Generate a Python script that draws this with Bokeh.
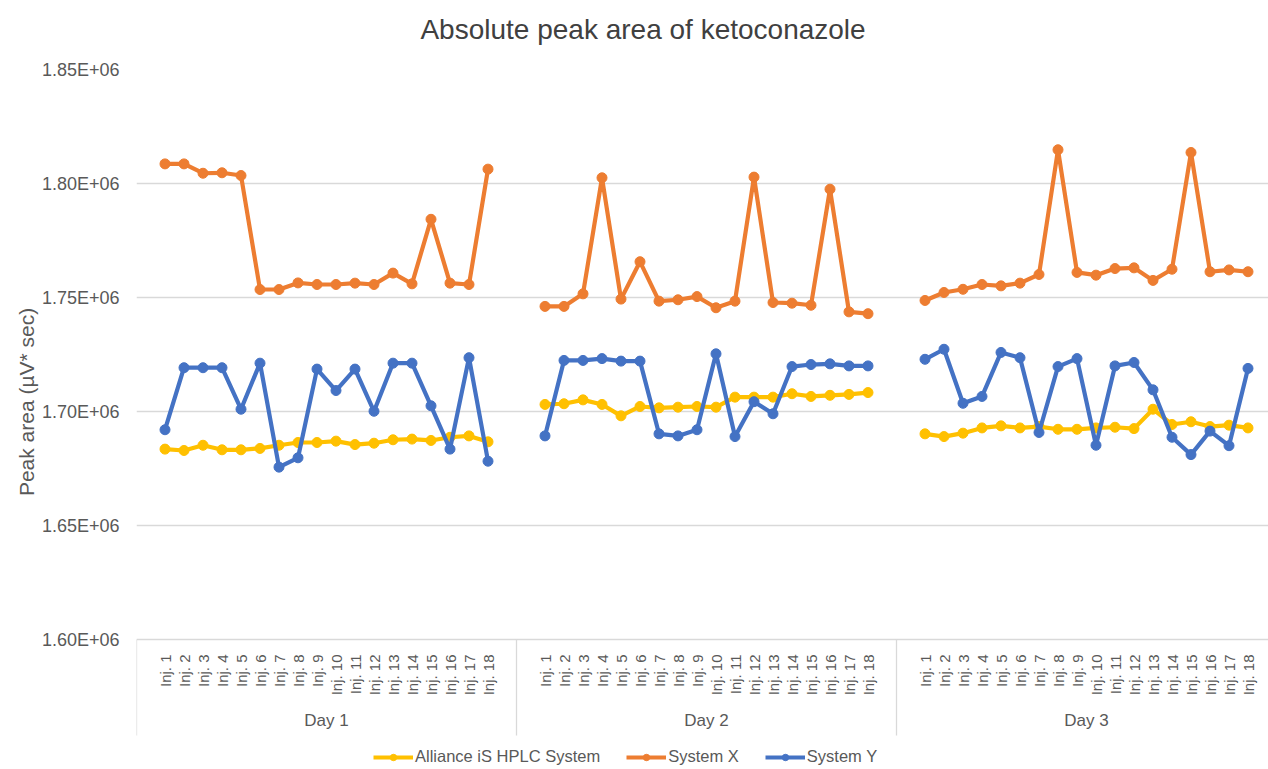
import math
import numpy as np
from bokeh.plotting import figure
from bokeh.models import (FixedTicker, LinearAxis, Legend, LegendItem, Range1d, Grid)
from bokeh.core.properties import value
from bokeh.embed import file_html
from bokeh.resources import INLINE

# ---------------- data ----------------
days = ["Day 1", "Day 2", "Day 3"]
injections = ["Inj. 1", "Inj. 2", "Inj. 3", "Inj. 4", "Inj. 5", "Inj. 6",
              "Inj. 7", "Inj. 8", "Inj. 9", "Inj. 10", "Inj. 11", "Inj. 12",
              "Inj. 13", "Inj. 14", "Inj. 15", "Inj. 16", "Inj. 17", "Inj. 18"]

alliance = [
    1683500, 1682900, 1685200, 1683200, 1683200, 1683800, 1685200, 1686400, 1686400,
    1687000, 1685500, 1686100, 1687600, 1687900, 1687300, 1688700, 1689300, 1686700,
    1703100, 1703400, 1705100, 1703100, 1698100, 1702200, 1701600, 1701900, 1702200,
    1701900, 1706300, 1706300, 1706300, 1707800, 1706600, 1707100, 1707500, 1708300,
    1690200, 1689000, 1690500, 1692800, 1693700, 1692800, 1693400, 1692200, 1692200,
    1692800, 1693100, 1692500, 1701000, 1694300, 1695500, 1693400, 1694000, 1692800,
]
system_x = [
    1808600, 1808600, 1804500, 1804700, 1803500, 1753500, 1753500, 1756400, 1755700,
    1755700, 1756300, 1755700, 1760700, 1756000, 1784300, 1756300, 1755700, 1806300,
    1746100, 1746100, 1751600, 1802500, 1749300, 1765700, 1748400, 1749000, 1750400,
    1745500, 1748400, 1802800, 1747800, 1747500, 1746600, 1797500, 1743700, 1742900,
    1748700, 1752200, 1753600, 1755700, 1755100, 1756300, 1760100, 1814800, 1761000,
    1759800, 1762700, 1763000, 1757500, 1762400, 1813600, 1761300, 1762100, 1761300,
]
system_y = [
    1692000, 1719200, 1719200, 1719200, 1701000, 1721200, 1675600, 1679700, 1718600,
    1709200, 1718600, 1700100, 1721200, 1721200, 1702500, 1683500, 1723600, 1678200,
    1689300, 1722400, 1722400, 1723200, 1722100, 1722100, 1690200, 1689300, 1692000,
    1725300, 1689000, 1704300, 1699000, 1719700, 1720600, 1720900, 1720000, 1720000,
    1722900, 1727300, 1703600, 1706600, 1725900, 1723600, 1690800, 1719700, 1723200,
    1685200, 1720000, 1721500, 1709500, 1688700, 1681100, 1691400, 1685000, 1718900,
]
y_ticks = [1600000, 1650000, 1700000, 1750000, 1800000, 1850000]
y_tick_labels = ["1.60E+06", "1.65E+06", "1.70E+06", "1.75E+06", "1.80E+06", "1.85E+06"]
y_title = "Peak area (\u00b5V* sec)"
chart_title = "Absolute peak area of ketoconazole"

series_names = ["Alliance iS HPLC System", "System X", "System Y"]
series_values = [alliance, system_x, system_y]
series_colors = ["#FFC000", "#ED7D31", "#4472C4"]

# ---------------- layout constants ----------------
SLOTS = 20            # category slots per day (first/last blank)
SLOT_PX = 19
FRAME_W = 1132
PLOT_H = 570          # height of the value area (1.60E+06 .. 1.85E+06)
BOTTOM_H = 130        # category-label / legend strip under the value area
FRAME_H = PLOT_H + BOTTOM_H
Y_PER_PX = (y_ticks[-1] - y_ticks[0]) / PLOT_H
Y_VIEW_MIN = y_ticks[0] - BOTTOM_H * Y_PER_PX
SEP_LEN = 96
Y_TITLE_POS = 1745500  # upper end of the rotated axis title (in y units)
TITLE_POS = 26.66      # horizontal centre of the chart title (in x units)

n_inj = len(injections)
x_pos = []
for d in range(len(days)):
    for i in range(n_inj):
        x_pos.append(d * SLOTS + i + 1.5)

def with_breaks(vals):
    xs, ys = [], []
    for d in range(len(days)):
        xs.extend(x_pos[d * n_inj:(d + 1) * n_inj]); xs.append(np.nan)
        ys.extend(vals[d * n_inj:(d + 1) * n_inj]); ys.append(np.nan)
    return xs, ys

FONT = "Liberation Sans"
GRID = "#D9D9D9"
TXT = "#595959"

p = figure(frame_width=FRAME_W, frame_height=FRAME_H, output_backend="svg",
           toolbar_location=None,
           x_range=Range1d(0, FRAME_W / SLOT_PX), y_range=Range1d(Y_VIEW_MIN, y_ticks[-1]),
           min_border_left=136, min_border_right=0, min_border_top=69,
           min_border_bottom=0, x_axis_type=None, y_axis_type=None)
p.outline_line_color = None
p.background_fill_color = "white"
p.border_fill_color = "white"

def bare_axis(ticks, labels, size, color, standoff, orientation="horizontal"):
    ax = LinearAxis(ticker=FixedTicker(ticks=ticks, minor_ticks=[]))
    ax.major_label_overrides = {t: l for t, l in zip(ticks, labels)}
    ax.major_label_orientation = orientation
    ax.axis_line_color = None
    ax.major_tick_line_color = None
    ax.major_tick_out = 0
    ax.major_tick_in = 0
    ax.minor_tick_line_color = None
    ax.major_label_text_font = FONT
    ax.major_label_text_font_size = size
    ax.major_label_text_color = color
    ax.major_label_standoff = standoff
    return ax

# chart title (single label above the plot area)
p.add_layout(bare_axis([TITLE_POS], [chart_title], "28px", "#404040", 25), "above")

# y axis + its title
yaxis = bare_axis(y_ticks, y_tick_labels, "18px", TXT, 17)
p.add_layout(yaxis, "left")
p.add_layout(bare_axis([Y_TITLE_POS], [y_title], "21px", TXT, 12, math.pi / 2), "left")

p.add_layout(Grid(dimension=1, ticker=yaxis.ticker, grid_line_color=GRID,
                  grid_line_width=1.3))

# category axis: day separators, injection labels, day labels
sep_x = [d * SLOTS for d in range(len(days) + 1)]
p.segment(x0=sep_x, y0=[y_ticks[0]] * len(sep_x), x1=sep_x,
          y1=[y_ticks[0] - SEP_LEN * Y_PER_PX] * len(sep_x),
          line_color=GRID, line_width=1.3)
p.text(x=x_pos, y=[y_ticks[0] - 15 * Y_PER_PX] * len(x_pos),
       text=[injections[k % n_inj] for k in range(len(x_pos))],
       angle=math.pi / 2, text_align="right", text_baseline="middle",
       text_font=value(FONT), text_font_size="15px", text_color=TXT)
day_ticks = [d * SLOTS + SLOTS / 2 for d in range(len(days))]
p.text(x=day_ticks, y=[y_ticks[0] - 81 * Y_PER_PX] * len(days), text=days,
       text_align="center", text_baseline="middle",
       text_font=value(FONT), text_font_size="17px", text_color=TXT)

# series
items = []
for name, vals, col in zip(series_names, series_values, series_colors):
    xs, ys = with_breaks(vals)
    lr = p.line(xs, ys, line_color=col, line_width=4.2)
    sr = p.scatter(x_pos, vals, marker="circle", size=10, fill_color=col, line_color=col)
    items.append(LegendItem(label=name, renderers=[lr, sr]))

legend = Legend(items=items, orientation="horizontal", location=(237, 3))
legend.label_text_font = FONT
legend.label_text_font_size = "16.5px"
legend.label_text_color = TXT
legend.glyph_width = 40
legend.glyph_height = 16
legend.label_height = 16
legend.label_standoff = 2
legend.spacing = 26
legend.padding = 0
legend.margin = 0
legend.border_line_color = None
legend.background_fill_alpha = 0
p.add_layout(legend)

open("out.html", "w").write(file_html(p, INLINE))
